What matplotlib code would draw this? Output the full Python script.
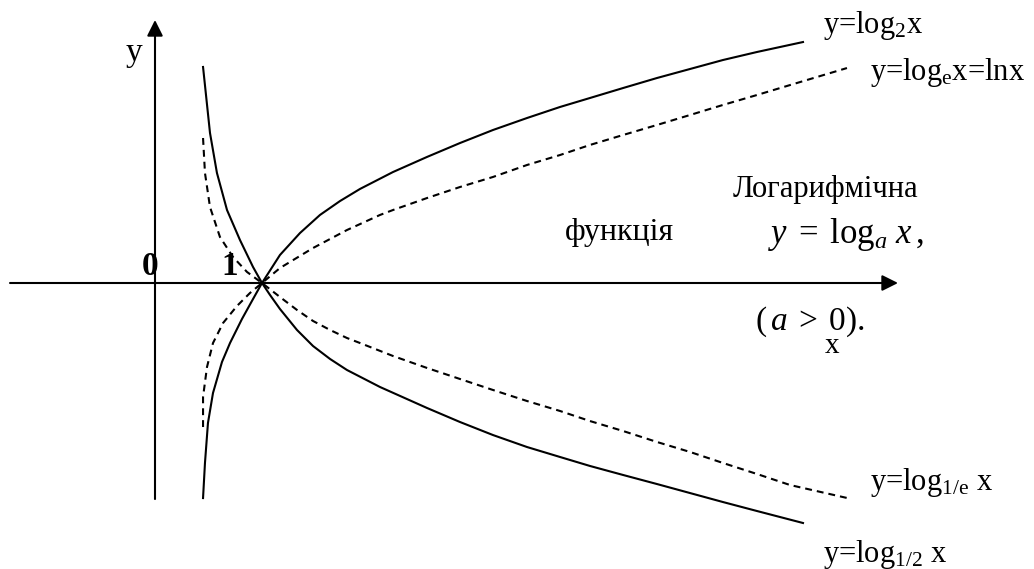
import matplotlib
matplotlib.use("Agg")
import matplotlib.pyplot as plt

plt.rcParams["font.family"] = ["Liberation Serif", "DejaVu Serif"]
plt.rcParams["mathtext.fontset"] = "custom"
plt.rcParams["mathtext.rm"] = "Liberation Serif"
plt.rcParams["mathtext.it"] = "Liberation Serif:italic"
plt.rcParams["mathtext.bf"] = "Liberation Serif:bold"

# curves (x in units where the crossing is x=1)
log2_x = [0.449, 0.467, 0.495, 0.542, 0.626, 0.701, 0.813, 0.916, 1.0, 1.168, 1.355, 1.542,
          1.729, 1.916, 2.224, 2.542, 2.85, 3.159, 3.477, 3.785, 4.065, 4.374, 4.692, 5.0,
          5.308, 5.626, 6.056]
log2_y = [-2.01, -1.682, -1.308, -1.028, -0.738, -0.561, -0.336, -0.15, 0.0, 0.262, 0.467,
          0.636, 0.766, 0.879, 1.037, 1.178, 1.308, 1.43, 1.542, 1.645, 1.729, 1.822, 1.916,
          2.0, 2.084, 2.159, 2.252]

log12_x = [0.449, 0.514, 0.579, 0.673, 0.794, 0.916, 1.0, 1.075, 1.168, 1.327, 1.477, 1.636,
           1.794, 2.103, 2.542, 2.85, 3.159, 3.477, 3.785, 4.065, 4.374, 4.692, 5.0, 5.308,
           5.626, 6.056]
log12_y = [2.019, 1.402, 1.028, 0.682, 0.402, 0.15, 0.0, -0.112, -0.243, -0.439, -0.589,
           -0.71, -0.813, -0.972, -1.168, -1.299, -1.421, -1.533, -1.626, -1.71, -1.794,
           -1.879, -1.963, -2.047, -2.131, -2.243]

ln_x = [0.449, 0.449, 0.486, 0.542, 0.636, 0.766, 0.888, 1.0, 1.168, 1.477, 1.794, 2.103,
        2.224, 2.542, 2.85, 3.159, 3.477, 3.785, 4.065, 4.374, 4.692, 5.0, 5.308, 5.626,
        5.935, 6.467]
ln_y = [-1.346, -1.065, -0.785, -0.561, -0.374, -0.215, -0.093, 0.0, 0.14, 0.327, 0.495,
        0.636, 0.682, 0.794, 0.897, 0.991, 1.103, 1.196, 1.29, 1.383, 1.477, 1.57, 1.664,
        1.757, 1.85, 2.009]

log1e_x = [0.449, 0.467, 0.514, 0.607, 0.729, 0.86, 1.0, 1.168, 1.327, 1.477, 1.636, 1.794,
           1.916, 2.224, 2.542, 2.85, 3.159, 3.477, 3.785, 4.065, 4.374, 4.692, 5.0, 5.308,
           5.626, 5.935, 6.467]
log1e_y = [1.355, 1.028, 0.71, 0.43, 0.243, 0.103, 0.0, -0.131, -0.252, -0.355, -0.439,
           -0.514, -0.561, -0.682, -0.794, -0.897, -1.0, -1.103, -1.196, -1.29, -1.383,
           -1.486, -1.579, -1.682, -1.785, -1.888, -2.009]

W, H = 1034, 569
fig = plt.figure(figsize=(W / 100, H / 100), dpi=100)
ax = fig.add_axes([0, 0, 1, 1])
ax.set_xlim(-155 / 107, (W - 155) / 107)
ax.set_ylim(-(H - 283) / 107, 283 / 107)
ax.axis("off")

arrow = dict(arrowstyle="-|>,head_length=0.4,head_width=0.2", mutation_scale=24,
             lw=1.5, color="black", shrinkA=0, shrinkB=0)
ax.annotate("", xy=(6.944, 0), xytext=(-1.355, 0), arrowprops=arrow)
ax.annotate("", xy=(0, 2.458), xytext=(0, -2.019), arrowprops=arrow)

dash = (0, (3.3, 2.4))
ax.plot(log2_x, log2_y, color="black", lw=1.5)
ax.plot(log12_x, log12_y, color="black", lw=1.5)
ax.plot(ln_x, ln_y, color="black", lw=1.5, linestyle=dash)
ax.plot(log1e_x, log1e_y, color="black", lw=1.5, linestyle=dash)


def txt(px, py, s, size, **kw):
    fig.text(px / W, 1 - py / H, s, fontsize=size, va="baseline", **kw)


txt(134, 61, "y", 24, ha="center")
txt(150, 275, "0", 24, ha="center", fontweight="bold")
txt(230, 275, "1", 24, ha="center", fontweight="bold")
txt(823, 33, r"y=log$_{\mathrm{2}}$x", 22)
txt(870, 80, r"y=log$_{\mathrm{e}}$x=lnx", 22)
txt(733, 197, "Логарифмічна", 22)
txt(565, 240, "функція", 23)
txt(768, 243, r"$y\;=\;\log_{a}\,x\,$,", 25)
txt(755, 330, r"$(\,a\;>\;0)$.", 24)
txt(832, 353, "x", 21, ha="center")
txt(870, 490, r"y=log$_{\mathrm{1/e}}$ x", 22)
txt(823, 562, r"y=log$_{\mathrm{1/2}}$ x", 22)

fig.savefig("out.png", dpi=100)
